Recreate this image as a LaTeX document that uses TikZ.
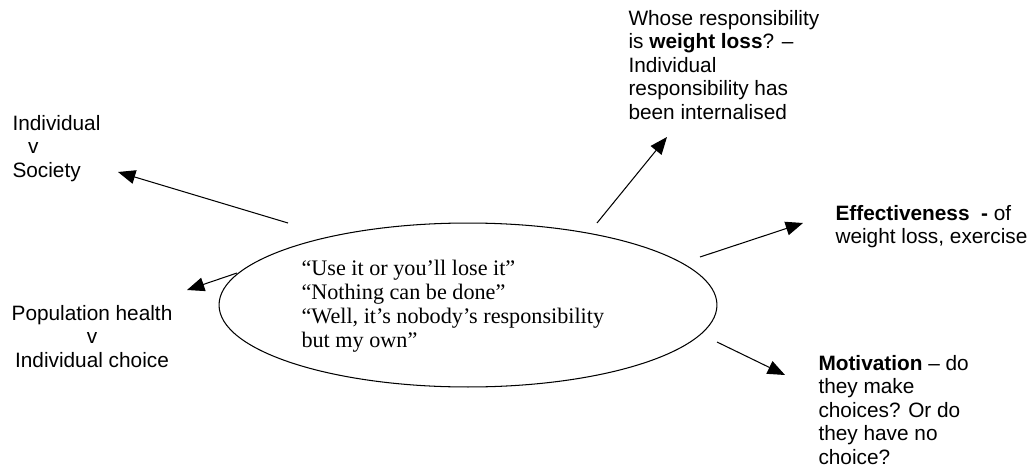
\documentclass[tikz,border=0pt]{standalone}
\usepackage{fontspec}
\setmainfont{Liberation Serif}
\newfontfamily\arialfont{Liberation Sans}
\usetikzlibrary{shapes.geometric,arrows.meta}

\begin{document}
\begin{tikzpicture}[x=0.577pt,y=-0.577pt,line width=0.6pt]
    \tikzstyle{issue}=[inner sep=0,align=left,anchor=north west,
      font=\arialfont\fontsize{12}{13.6}\selectfont];
    \tikzstyle{hub}=[draw,ellipse,inner sep=0,minimum width=287.3pt,
      minimum height=94.6pt];
    \tikzstyle{saying}=[inner sep=0,align=left,anchor=north west,
      font=\fontsize{12.8}{13.9}\selectfont];
    \tikzstyle{link}=[-{Triangle[length=10pt,width=8pt]}];

    \useasboundingbox (0,0) rectangle (1035,467);

    \node (hub) [hub] at (468,305) {}; \node (sayings) [saying] at
    (301,258) {\strut “Use it or you’ll lose it”\\“Nothing can be
      done”\\“Well, it’s nobody’s responsibility\\but my own”};

    \node (society) [issue] at (12,113) {\strut
      Individual\\\hspace*{0.75em}v\\Society};
    \node (population) [issue,align=center,anchor=north] at (92,303)
    {\strut Population health\\v\\Individual choice};
    \node (whose) [issue] at (628,8) {\strut Whose responsibility\\is
      \textbf{weight loss}? –\\Individual\\responsibility has\\been
      internalised};
    \node (effect) [issue] at (835,203) {\strut
      \textbf{Effectiveness\ \ -} of\\weight loss, exercise};
    \node (motive) [issue] at (818,353) {\strut \textbf{Motivation} –
      do\\they make\\choices? Or do\\they have no\\choice?};

    \coordinate (s1) at (288,223); \coordinate (t1) at (118,172);
    \coordinate (s2) at (237,273); \coordinate (t2) at (187,290);
    \coordinate (s3) at (597,223); \coordinate (t3) at (667,137);
    \coordinate (s4) at (700,257); \coordinate (t4) at (803,223);
    \coordinate (s5) at (717,342); \coordinate (t5) at (785,375);

    \path[link] (s1) edge (t1) (s2) edge (t2) (s3) edge (t3) (s4)
    edge (t4) (s5) edge (t5);
  \end{tikzpicture}
\end{document}
